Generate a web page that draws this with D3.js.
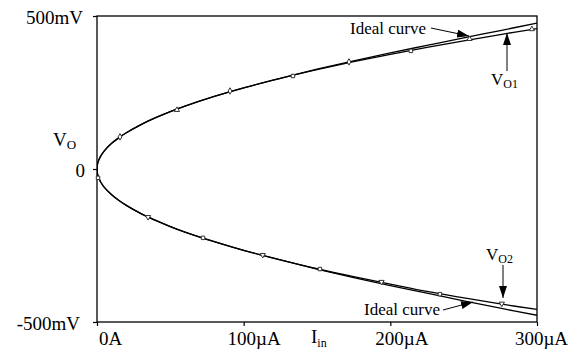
<!DOCTYPE html>
<html>
<head>
<meta charset="utf-8">
<script src="https://cdn.jsdelivr.net/npm/d3@7"></script>
<style>
  html, body { margin: 0; padding: 0; background: #fff; }
  svg { display: block; }
  text { font-family: "Liberation Serif", "Times New Roman", serif; fill: #000; }
</style>
</head>
<body>
<svg id="chart" width="584" height="350"></svg>
<script>
// ---------- data (I in µA, V in mV) ----------
const currents   = [0, 0.25, 1, 2.5, 5, 10, 15, 20, 30, 40, 50, 60, 80, 100, 125, 150, 175, 200, 225, 250, 275, 300];
const vo1Values  = [0, 13.3, 26.5, 41.9, 59.3, 83.8, 102.6, 118.5, 145.1, 167.6, 187.4, 205.3, 237.0, 265.0, 296.3, 324.6, 350.6, 374.8, 397.5, 419.0, 439.4, 459.0];
const idealUpper = [0, 13.3, 26.5, 41.9, 59.3, 83.8, 102.6, 118.5, 145.1, 167.6, 187.4, 205.3, 237.0, 265.0, 296.3, 326.0, 353.5, 379.5, 404.0, 428.5, 452.5, 477.0];
const vo2Values  = [0, -13.5, -27, -42.5, -60, -84, -103, -119, -146, -168, -188, -206, -237.5, -266, -297, -326, -352, -376, -400, -421, -441, -459];
const idealLower = [0, -13.5, -27, -42.5, -60, -84, -103, -119, -146, -168, -188, -206, -237.5, -266, -297, -327, -355, -381, -406, -431, -455, -478];

const vo1MarkerI = [15.7, 54.5, 90.7, 133.6, 171.8, 214, 254, 296.5];
const vo1MarkerV = [105, 193, 255, 304, 350, 386, 425, 457];
const vo1Shapes  = ["diamond", "triangle", "diamond", "square", "diamond", "square", "triangle", "triangle"];
const vo2MarkerI = [0.7, 34.8, 72.3, 113, 152, 194, 233.8, 276];
const vo2MarkerV = [-29, -157, -225, -281, -327, -369, -409, -440];
const vo2Shapes  = ["square", "down", "square", "down", "square", "down", "square", "down"];

const xTicks = [0, 100, 200, 300];
const xTickLabels = ["0A", "100\u00B5A", "200\u00B5A", "300\u00B5A"];
const yTicks = [-500, 0, 500];
const yTickLabels = ["-500mV", "0", "500mV"];

// ---------- layout ----------
const FONT = "'Liberation Serif', 'Times New Roman', serif";
const svg = d3.select("#chart");
const mLeft = 97, mRight = 537, mTop = 16, mBottom = 322;
const x = d3.scaleLinear().domain([0, 300]).range([mLeft, mRight]);
const y = d3.scaleLinear().domain([-500, 500]).range([mBottom, mTop]);

// frame
svg.append("rect")
  .attr("x", mLeft).attr("y", mTop)
  .attr("width", mRight - mLeft).attr("height", mBottom - mTop)
  .attr("fill", "none").attr("stroke", "#000").attr("stroke-width", 1.3);

// x axis
const xAxis = svg.append("g")
  .attr("transform", `translate(0,${mBottom})`)
  .call(d3.axisBottom(x).tickValues(xTicks).tickSize(4).tickFormat((d, i) => xTickLabels[i]));
xAxis.attr("font-family", FONT);
xAxis.select(".domain").remove();
xAxis.selectAll("line").attr("stroke", "#000").attr("stroke-width", 1.2);
const xLabelDx = [13, 10, 11, 4];
xAxis.selectAll("text")
  .attr("font-family", FONT)
  .attr("font-size", 19).attr("fill", "#000")
  .attr("y", 0).attr("dy", 23)
  .attr("dx", (d, i) => xLabelDx[i]);

// y axis
const yAxis = svg.append("g")
  .attr("transform", `translate(${mLeft},0)`)
  .call(d3.axisLeft(y).tickValues(yTicks).tickSize(4).tickFormat((d, i) => yTickLabels[i]));
yAxis.attr("font-family", FONT);
yAxis.select(".domain").remove();
yAxis.selectAll("line").attr("stroke", "#000").attr("stroke-width", 1.2);
yAxis.selectAll("text")
  .attr("font-family", FONT)
  .attr("font-size", 19).attr("fill", "#000")
  .attr("x", (d) => d === -500 ? -17 : (d === 0 ? -12 : -14)).attr("dy", 7.5);

// axis titles
const vt = svg.append("text").attr("x", 53).attr("y", 146).attr("font-size", 19).attr("font-family", FONT);
vt.append("tspan").text("V");
vt.append("tspan").attr("font-size", 13).attr("dy", 3).text("O");
const it = svg.append("text").attr("x", 311).attr("y", 343).attr("font-size", 19).attr("font-family", FONT);
it.append("tspan").text("I");
it.append("tspan").attr("font-size", 12).attr("dy", 3.5).text("in");

// curves
svg.append("clipPath").attr("id", "plotclip")
  .append("rect").attr("x", mLeft).attr("y", mTop).attr("width", mRight - mLeft).attr("height", mBottom - mTop);
const line = d3.line().x(d => x(d[0])).y(d => y(d[1])).curve(d3.curveCatmullRom.alpha(0.5));
const series = [idealUpper, vo1Values, idealLower, vo2Values];
series.forEach(vals => {
  svg.append("path")
    .datum(currents.map((c, i) => [c, vals[i]]))
    .attr("d", line)
    .attr("fill", "none").attr("stroke", "#000").attr("stroke-width", 1.3)
    .attr("clip-path", "url(#plotclip)");
});

// markers
const symMap = {
  diamond: d3.symbol().type(d3.symbolDiamond).size(12),
  triangle: d3.symbol().type(d3.symbolTriangle).size(12),
  square: d3.symbol().type(d3.symbolSquare).size(12),
  down: d3.symbol().type(d3.symbolTriangle).size(12)
};
function drawMarkers(Is, Vs, shapes) {
  Is.forEach((c, i) => {
    const s = shapes[i];
    svg.append("path")
      .attr("d", symMap[s]())
      .attr("transform", `translate(${x(c)},${y(Vs[i])})` + (s === "down" ? " rotate(180)" : ""))
      .attr("fill", "#fff").attr("stroke", "#333").attr("stroke-width", 1);
  });
}
drawMarkers(vo1MarkerI, vo1MarkerV, vo1Shapes);
drawMarkers(vo2MarkerI, vo2MarkerV, vo2Shapes);

// annotations
const defs = svg.append("defs");
defs.append("marker").attr("id", "ah")
  .attr("viewBox", "0 0 12 8").attr("refX", 12).attr("refY", 4)
  .attr("markerWidth", 12).attr("markerHeight", 8).attr("markerUnits", "userSpaceOnUse")
  .attr("orient", "auto")
  .append("path").attr("d", "M0,0 L12,4 L0,8 Z").attr("fill", "#000");

function arrow(x1, y1, x2, y2) {
  svg.append("line").attr("x1", x1).attr("y1", y1).attr("x2", x2).attr("y2", y2)
    .attr("stroke", "#000").attr("stroke-width", 1).attr("marker-end", "url(#ah)");
}
function label(xp, yp, main, sub, anchor) {
  const t = svg.append("text").attr("x", xp).attr("y", yp).attr("font-size", 17)
    .attr("font-family", FONT).attr("text-anchor", anchor || "start");
  t.append("tspan").text(main);
  if (sub) t.append("tspan").attr("font-size", 12).attr("dy", 3).text(sub);
}

label(350, 34, "Ideal curve");
arrow(431, 28, 469, 36);
label(491, 85, "V", "O1");
arrow(507, 71, 507, 33);

label(440, 315, "Ideal curve", null, "end");
arrow(443, 310, 473, 302);
label(486, 260, "V", "O2");
arrow(503, 265, 503, 298);
</script>
</body>
</html>
